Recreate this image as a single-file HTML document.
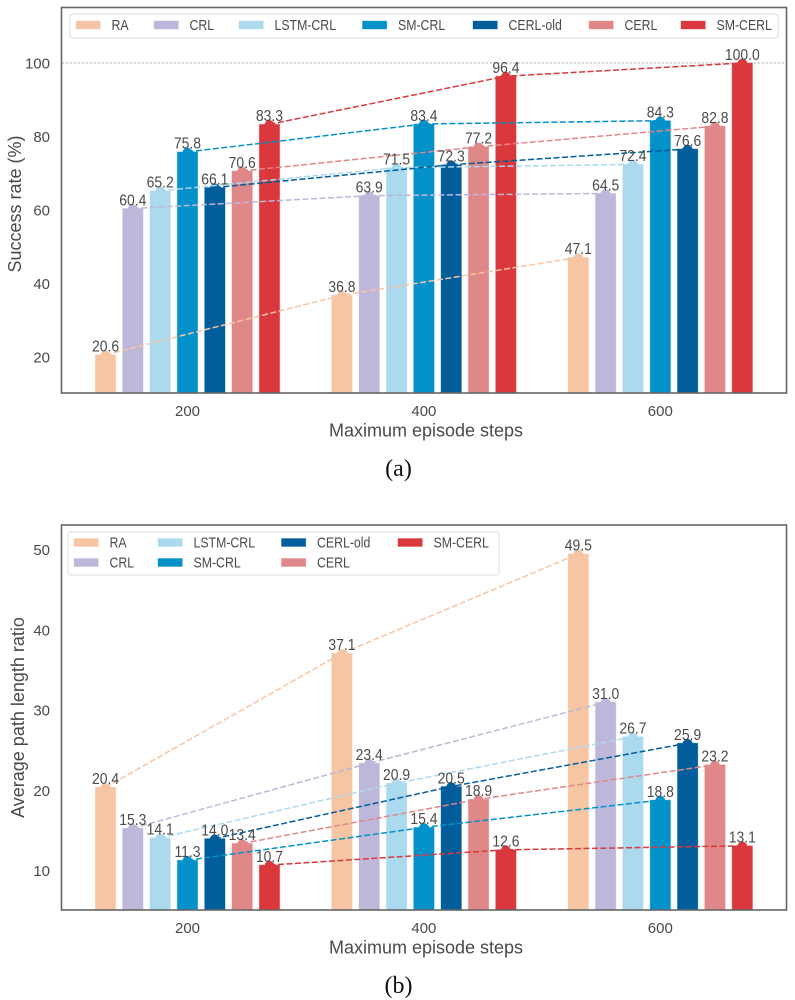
<!DOCTYPE html>
<html lang="en">
<head>
<meta charset="utf-8">
<title>Success rate and path length ratio</title>
<style>
html,body{margin:0;padding:0;background:#fff;}
svg{display:block;}
text{font-family:"Liberation Sans",sans-serif;fill:#4a4a4a;}
.caption{font-family:"Liberation Serif",serif;fill:#111;font-size:24px;}
</style>
</head>
<body>
<svg id="figure" xmlns="http://www.w3.org/2000/svg" width="795" height="1000" viewBox="0 0 795 1000"></svg>
<script>
const categories = ['200', '400', '600'];
const seriesNames = ['RA', 'CRL', 'LSTM-CRL', 'SM-CRL', 'CERL-old', 'CERL', 'SM-CERL'];
const seriesColors = ['#f6c5a4', '#bdb7d9', '#abd9ee', '#0391c9', '#025d9b', '#e08789', '#da383c'];

const successRA = [20.6, 36.8, 47.1];
const successCRL = [60.4, 63.9, 64.5];
const successLSTM = [65.2, 71.5, 72.4];
const successSMCRL = [75.8, 83.4, 84.3];
const successCERLold = [66.1, 72.3, 76.6];
const successCERL = [70.6, 77.2, 82.8];
const successSMCERL = [83.3, 96.4, 100.0];
const successTicks = [20, 40, 60, 80, 100];

const pathRA = [20.4, 37.1, 49.5];
const pathCRL = [15.3, 23.4, 31.0];
const pathLSTM = [14.1, 20.9, 26.7];
const pathSMCRL = [11.3, 15.4, 18.8];
const pathCERLold = [14.0, 20.5, 25.9];
const pathCERL = [13.4, 18.9, 23.2];
const pathSMCERL = [10.7, 12.6, 13.1];
const pathTicks = [10, 20, 30, 40, 50];

const svg = document.getElementById('figure');
const NS = 'http://www.w3.org/2000/svg';

function make(parent, tag, attrs, content) {
  const el = document.createElementNS(NS, tag);
  for (const k in attrs) el.setAttribute(k, attrs[k]);
  if (content !== undefined) el.textContent = content;
  parent.appendChild(el);
  return el;
}

function slug(s) {
  return s.toLowerCase().replace(/[^a-z0-9]+/g, '-');
}

function drawChart(opt) {
  const left = 61.5, right = 786.5;
  const top = opt.top, bottom = opt.bottom;
  const yScale = v => bottom - (v - opt.yMin) / (opt.yMax - opt.yMin) * (bottom - top);
  const groupX = i => 187.5 + i * 236.4;
  const barX = (g, s) => groupX(g) + (s - 3) * 27.33;
  const barW = 20.4;

  const chart = make(svg, 'g', {});
  
  

  const plot = make(chart, 'rect', {x: left, y: top, width: right - left, height: bottom - top, fill: '#fff'});
  
  

  if (opt.refLine !== undefined) {
    const ref = make(chart, 'line', {x1: left, x2: right, y1: yScale(opt.refLine), y2: yScale(opt.refLine), stroke: '#b5b5b5', 'stroke-width': 1, 'stroke-dasharray': '2.5 1.5'});
    
    
  }

  // bars + top markers
  opt.series.forEach((vals, s) => {
    vals.forEach((v, g) => {
      const bar = make(chart, 'rect', {x: barX(g, s) - barW / 2, y: yScale(v), width: barW, height: bottom - yScale(v), fill: seriesColors[s], stroke: seriesColors[s], 'stroke-opacity': 0.35, 'stroke-width': 1});
      
      
      const dot = make(chart, 'circle', {cx: barX(g, s), cy: yScale(v) + 0.8, r: 5, fill: seriesColors[s]});
      
      
    });
  });

  // dashed trend lines
  opt.series.forEach((vals, s) => {
    const pts = vals.map((v, g) => barX(g, s).toFixed(2) + ',' + yScale(v).toFixed(2)).join(' ');
    const line = make(chart, 'polyline', {points: pts, fill: 'none', stroke: seriesColors[s], 'stroke-width': 1.5, 'stroke-dasharray': '6 2.5'});
    
    
  });

  // value labels
  opt.series.forEach((vals, s) => {
    vals.forEach((v, g) => {
      const label = make(chart, 'text', {'text-anchor': 'middle', 'font-size': 15.5, transform: 'translate(' + barX(g, s) + ',' + (yScale(v) - 3.2) + ') scale(0.9,1)'}, v.toFixed(1));
      
      
    });
  });

  // frame
  const frame = make(chart, 'rect', {x: left, y: top, width: right - left, height: bottom - top, fill: 'none', stroke: '#666', 'stroke-width': 1.6});
  
  

  // y ticks
  opt.ticks.forEach(t => {
    const tick = make(chart, 'text', {x: 50, y: yScale(t) + 5.3, 'text-anchor': 'end', 'font-size': 15}, String(t));
    
    
  });

  // x ticks
  categories.forEach((c, g) => {
    const tick = make(chart, 'text', {x: groupX(g), y: bottom + 23, 'text-anchor': 'middle', 'font-size': 15}, c);
    
    
  });

  const xTitle = make(chart, 'text', {x: 426, y: bottom + 43.5, 'text-anchor': 'middle', 'font-size': 18}, 'Maximum episode steps');
  
  

  const yTitle = make(chart, 'text', {x: 0, y: 0, 'text-anchor': 'middle', 'font-size': 18, transform: 'translate(' + opt.yTitleX + ',' + opt.yTitleY + ') rotate(-90)'}, opt.yTitle);
  
  

  // legend
  const legend = make(chart, 'g', {});
  
  
  const box = make(legend, 'rect', {x: opt.legendBox[0], y: opt.legendBox[1], width: opt.legendBox[2], height: opt.legendBox[3], rx: 2.5, fill: '#fff', stroke: '#e2e2e2', 'stroke-width': 1.2});
  
  
  seriesNames.forEach((n, s) => {
    const pos = opt.legendPos[s];
    const patch = make(legend, 'rect', {x: pos[0], y: pos[1] - 4, width: 24.3, height: 8, fill: seriesColors[s], stroke: seriesColors[s], 'stroke-opacity': 0.35, 'stroke-width': 1});
    
    
    const txt = make(legend, 'text', {'font-size': 14.5, transform: 'translate(' + (pos[0] + 35.5) + ',' + (pos[1] + 5.2) + ') scale(0.85,1)'}, n);
    
    
  });
}

drawChart({
  name: 'success-rate-chart',
  top: 7.5, bottom: 393, yMin: 10.2, yMax: 115.1,
  series: [successRA, successCRL, successLSTM, successSMCRL, successCERLold, successCERL, successSMCERL],
  ticks: successTicks,
  refLine: 100,
  yTitle: 'Success rate (%)',
  yTitleX: 21, yTitleY: 204,
  legendBox: [70, 14, 708, 24],
  legendPos: [[76, 25], [154, 25], [239, 25], [362.5, 25], [473, 25], [589, 25], [681, 25]]
});

drawChart({
  name: 'path-length-ratio-chart',
  top: 525, bottom: 910, yMin: 5.1, yMax: 53.1,
  series: [pathRA, pathCRL, pathLSTM, pathSMCRL, pathCERLold, pathCERL, pathSMCERL],
  ticks: pathTicks,
  yTitle: 'Average path length ratio',
  yTitleX: 24, yTitleY: 717.5,
  legendBox: [68, 532, 431, 43],
  legendPos: [[74, 542.5], [74, 562.5], [158, 542.5], [158, 562.5], [281.5, 542.5], [281.5, 562.5], [398, 542.5]]
});

const captionA = make(svg, 'text', {x: 398.5, y: 476, 'text-anchor': 'middle', class: 'caption'}, '(a)');


const captionB = make(svg, 'text', {x: 398.5, y: 993, 'text-anchor': 'middle', class: 'caption'}, '(b)');


</script>
</body>
</html>
